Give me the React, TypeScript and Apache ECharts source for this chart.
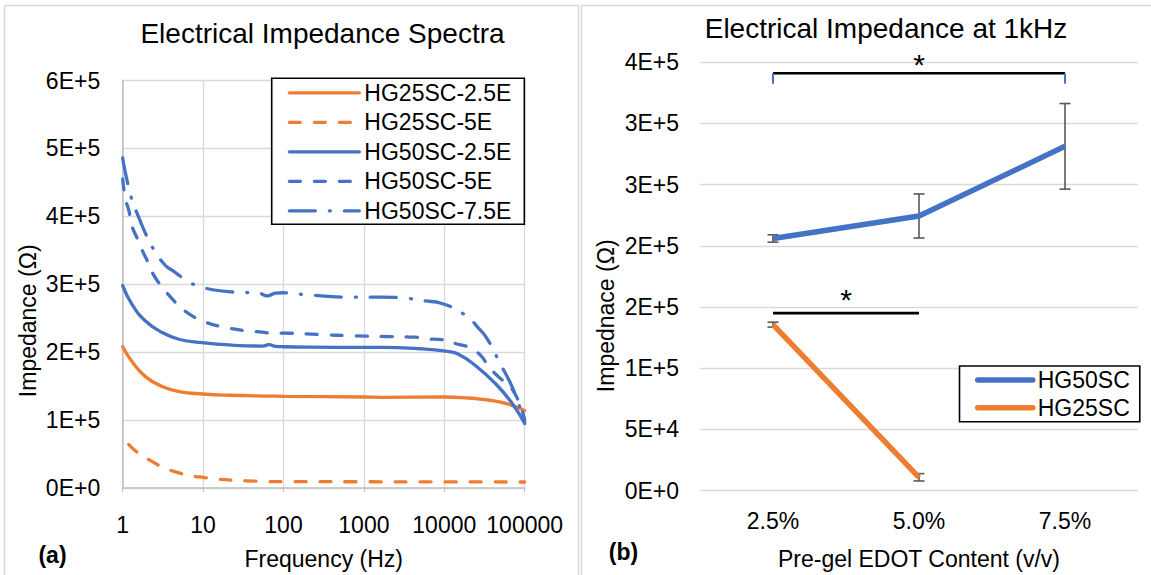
import React, { useEffect, useRef } from "react";
import * as echarts from "echarts";

const ORANGE = "#ed7d31";
const BLUE = "#4472c4";
const FONT = "'Liberation Sans', Arial, sans-serif";

// ---------- Panel (a): impedance spectra ----------
const hg25_25E_freq = [1, 1.31, 1.92, 3.1, 5, 10, 21, 100, 1000, 1650, 10000, 20000, 30000, 50000, 70000, 100000];
const hg25_25E_imp = [208000, 186000, 164000, 149500, 142000, 138400, 136600, 135000, 134000, 133500, 134000, 132500, 130500, 126500, 121500, 114000];

const hg25_5E_freq = [1.19, 1.58, 2.28, 3.25, 4.76, 7, 10.3, 15.5, 23, 34, 52, 77, 100, 1000, 10000, 100000];
const hg25_5E_imp = [64000, 51000, 39500, 29800, 23000, 18000, 15400, 12900, 11500, 10600, 9800, 9400, 9300, 9200, 9000, 8800];

const hg50_25E_freq = [1, 1.31, 1.92, 3.1, 5, 9.8, 21, 55, 66, 80, 100, 1000, 1650, 5000, 11000, 15000, 24000, 43000, 69000, 100000];
const hg50_25E_imp = [298000, 270000, 246000, 229000, 219000, 214000, 210600, 209000, 211000, 208500, 208000, 207000, 207000, 205000, 201000, 197000, 181000, 154000, 125500, 95000];

const hg50_5E_freq = [1, 1.08, 1.19, 1.31, 1.51, 1.78, 2.07, 2.44, 3.1, 4.05, 5.25, 7.4, 10.3, 15.5, 22, 34, 50, 77, 100, 270, 780, 2000, 4300, 6400, 9200, 14400, 20300, 28500, 36000, 47000, 73000, 100000];
const hg50_5E_imp = [455000, 426000, 409000, 385000, 368000, 348000, 332000, 313000, 296000, 279500, 266000, 253000, 245000, 238500, 234800, 231500, 230000, 228000, 228000, 226000, 224000, 223000, 222000, 219500, 218500, 212000, 207000, 195000, 178000, 164000, 142000, 100000];

const hg50_75E_freq = [1, 1.04, 1.13, 1.25, 1.66, 1.97, 2.44, 3.4, 4.2, 6.1, 9.1, 21, 33, 50, 63, 80, 98, 177, 660, 1650, 3600, 5700, 9100, 19100, 26300, 34500, 49600, 62000, 74500, 100000];
const hg50_75E_imp = [486000, 474000, 453500, 431000, 392500, 372000, 351000, 327600, 320000, 306500, 296600, 289000, 288000, 286600, 283000, 287000, 287500, 285000, 281000, 281000, 279000, 275600, 272000, 253000, 236000, 219000, 183000, 161600, 141000, 97000];

// ---------- Panel (b): impedance at 1 kHz ----------
const edotCategories = ["2.5%", "5.0%", "7.5%"];
const hg50Mean = [206000, 224400, 281300];
const hg50Err = [3000, 18000, 35000];
const hg25Mean = [135600, 10800];
const hg25Err = [2000, 3000];
// [fromIndex, toIndex, barValue, endTickValue, starValue]
const sigTop = [0, 2, 341000, 332500, 351600];
const sigLow = [0, 1, 145000, 145000, 159000];

const sciLabel = (v: number) => {
  if (v === 0) return "0E+0";
  let e = Math.floor(Math.log10(v) + 1e-9);
  let m = Math.round(v / Math.pow(10, e));
  if (m >= 10) {
    m = 1;
    e += 1;
  }
  return m + "E+" + e;
};

const pairs = (f: number[], v: number[]) => f.map((x, i) => [x, v[i]]);

export default function App() {
  const ref = useRef<HTMLDivElement>(null);
  useEffect(() => {
    if (!ref.current) return;
    const chart = echarts.init(ref.current, undefined, { renderer: "svg" });

    const axisLabelStyle = { color: "#000", fontSize: 23, fontFamily: FONT };
    const gridLine = { lineStyle: { color: "#d9d9d9", width: 1.3 } };

    const errRender = (params: any, api: any) => {
      const i = api.value(0);
      const m = api.value(1);
      const e = api.value(2);
      const hi = api.coord([i, m + e]);
      const lo = api.coord([i, m - e]);
      const w = 5.5;
      const st = { stroke: "#595959", lineWidth: 1.6 };
      return {
        type: "group",
        children: [
          { type: "line", shape: { x1: hi[0], y1: hi[1], x2: lo[0], y2: lo[1] }, style: st },
          { type: "line", shape: { x1: hi[0] - w, y1: hi[1], x2: hi[0] + w, y2: hi[1] }, style: st },
          { type: "line", shape: { x1: lo[0] - w, y1: lo[1], x2: lo[0] + w, y2: lo[1] }, style: st },
        ],
      };
    };

    const sigRender = (params: any, api: any) => {
      const a = api.coord([api.value(0), api.value(2)]);
      const b = api.coord([api.value(1), api.value(2)]);
      const t = api.coord([api.value(0), api.value(3)]);
      const s = api.coord([api.value(0), api.value(4)]);
      const children: any[] = [
        { type: "line", shape: { x1: a[0], y1: a[1], x2: b[0], y2: b[1] }, style: { stroke: "#000", lineWidth: 2.6 } },
        {
          type: "text",
          x: (a[0] + b[0]) / 2,
          y: s[1] + 4,
          style: { text: "*", fontSize: 30, fontFamily: FONT, fill: "#000", align: "center", verticalAlign: "middle" },
        },
      ];
      if (Math.abs(t[1] - a[1]) > 0.5) {
        children.push(
          { type: "line", shape: { x1: a[0], y1: a[1], x2: a[0], y2: t[1] }, style: { stroke: BLUE, lineWidth: 2 } },
          { type: "line", shape: { x1: b[0], y1: a[1], x2: b[0], y2: t[1] }, style: { stroke: BLUE, lineWidth: 2 } }
        );
      }
      return { type: "group", children };
    };

    const leftLine = (name: string, f: number[], v: number[], color: string, type: any) => ({
      name,
      type: "line",
      xAxisIndex: 0,
      yAxisIndex: 0,
      data: pairs(f, v),
      symbol: "none",
      smooth: 0.5,
      itemStyle: { color },
      lineStyle: { color, width: 3.3, type, cap: "round" },
      z: 3,
    });

    const hiddenSymbol = { opacity: 0, color: "rgba(0,0,0,0)", borderWidth: 0 };

    chart.setOption({
      animation: false,
      textStyle: { fontFamily: FONT },
      title: [
        {
          text: "Electrical Impedance Spectra",
          left: 322.5,
          top: 19,
          padding: 0,
          textAlign: "center",
          textStyle: { fontSize: 28, fontWeight: "normal", color: "#000", fontFamily: FONT },
        },
        {
          text: "Electrical Impedance at 1kHz",
          left: 886,
          top: 14,
          padding: 0,
          textAlign: "center",
          textStyle: { fontSize: 28, fontWeight: "normal", color: "#000", fontFamily: FONT },
        },
      ],
      legend: [
        {
          data: ["HG25SC-2.5E", "HG25SC-5E", "HG50SC-2.5E", "HG50SC-5E", "HG50SC-7.5E"],
          orient: "vertical",
          left: 271.7,
          top: 78.3,
          padding: [3, 13, 2, 16],
          itemWidth: 70,
          itemHeight: 14,
          itemGap: 6.5,
          borderColor: "#000",
          borderWidth: 1.6,
          backgroundColor: "#fff",
          itemStyle: hiddenSymbol,
          lineStyle: { width: 3.3, cap: "round" },
          textStyle: { fontSize: 23, lineHeight: 23, color: "#000", fontFamily: FONT },
        },
        {
          data: ["HG50SC", "HG25SC"],
          orient: "vertical",
          left: 959.5,
          top: 366,
          padding: [2.5, 10, 2.5, 15.5],
          itemWidth: 55,
          itemHeight: 14,
          itemGap: 4.7,
          borderColor: "#000",
          borderWidth: 1.6,
          backgroundColor: "#fff",
          itemStyle: hiddenSymbol,
          lineStyle: { width: 5.5, cap: "round" },
          textStyle: { fontSize: 23, lineHeight: 23, color: "#000", fontFamily: FONT },
        },
      ],
      grid: [
        { left: 122.7, top: 80.5, width: 402, height: 415.7 },
        { left: 700, top: 62.3, width: 438, height: 430.7 },
      ],
      xAxis: [
        {
          type: "log",
          logBase: 10,
          gridIndex: 0,
          min: 1,
          max: 100000,
          name: "Frequency (Hz)",
          nameLocation: "middle",
          nameGap: 59,
          nameTextStyle: { fontSize: 23, color: "#000", fontFamily: FONT },
          axisLine: { show: true, lineStyle: { color: "#bfbfbf", width: 1.5 } },
          axisTick: { show: true, length: 4, lineStyle: { color: "#bfbfbf" } },
          axisLabel: { ...axisLabelStyle, margin: 25, formatter: (v: number) => String(Math.round(v)) },
          splitLine: { show: true, ...gridLine },
        },
        {
          type: "category",
          gridIndex: 1,
          data: edotCategories,
          boundaryGap: true,
          name: "Pre-gel EDOT Content (v/v)",
          nameLocation: "middle",
          nameGap: 56.5,
          nameTextStyle: { fontSize: 23, color: "#000", fontFamily: FONT },
          axisLine: { show: false },
          axisTick: { show: false },
          axisLabel: { ...axisLabelStyle, margin: 19 },
          splitLine: { show: false },
        },
      ],
      yAxis: [
        {
          type: "value",
          gridIndex: 0,
          min: 0,
          max: 600000,
          interval: 100000,
          axisLine: { show: true, lineStyle: { color: "#bfbfbf", width: 1.5 } },
          axisTick: { show: false },
          axisLabel: { ...axisLabelStyle, margin: 22.5, formatter: sciLabel },
          splitLine: { show: true, ...gridLine },
        },
        {
          type: "value",
          gridIndex: 1,
          min: 0,
          max: 350000,
          interval: 50000,
          axisLine: { show: false },
          axisTick: { show: false },
          axisLabel: { ...axisLabelStyle, margin: 21, formatter: sciLabel },
          splitLine: { show: true, ...gridLine },
        },
      ],
      series: [
        leftLine("HG25SC-2.5E", hg25_25E_freq, hg25_25E_imp, ORANGE, "solid"),
        leftLine("HG25SC-5E", hg25_5E_freq, hg25_5E_imp, ORANGE, [11, 14]),
        leftLine("HG50SC-2.5E", hg50_25E_freq, hg50_25E_imp, BLUE, "solid"),
        leftLine("HG50SC-5E", hg50_5E_freq, hg50_5E_imp, BLUE, [11, 14]),
        leftLine("HG50SC-7.5E", hg50_75E_freq, hg50_75E_imp, BLUE, [26, 14, 1, 14]),
        {
          type: "custom",
          xAxisIndex: 1,
          yAxisIndex: 1,
          data: hg50Mean.map((m, i) => [i, m, hg50Err[i]]),
          renderItem: errRender,
          z: 2,
          silent: true,
        },
        {
          type: "custom",
          xAxisIndex: 1,
          yAxisIndex: 1,
          data: hg25Mean.map((m, i) => [i, m, hg25Err[i]]),
          renderItem: errRender,
          z: 2,
          silent: true,
        },
        {
          name: "HG50SC",
          type: "line",
          xAxisIndex: 1,
          yAxisIndex: 1,
          data: hg50Mean,
          symbol: "none",
          itemStyle: { color: BLUE },
          lineStyle: { color: BLUE, width: 5.5 },
          z: 4,
        },
        {
          name: "HG25SC",
          type: "line",
          xAxisIndex: 1,
          yAxisIndex: 1,
          data: hg25Mean,
          symbol: "none",
          itemStyle: { color: ORANGE },
          lineStyle: { color: ORANGE, width: 5.5 },
          z: 4,
        },
        {
          type: "custom",
          xAxisIndex: 1,
          yAxisIndex: 1,
          data: [sigTop, sigLow],
          renderItem: sigRender,
          z: 5,
          silent: true,
          clip: false,
        },
      ],
      graphic: [
        {
          type: "rect",
          silent: true,
          z: -10,
          shape: { x: 4.5, y: 5.5, width: 574, height: 640 },
          style: { fill: "none", stroke: "#d9d9d9", lineWidth: 1.5 },
        },
        {
          type: "rect",
          silent: true,
          z: -10,
          shape: { x: 581.5, y: 5.5, width: 640, height: 640 },
          style: { fill: "none", stroke: "#d9d9d9", lineWidth: 1.5 },
        },
        {
          type: "text",
          x: 27.7,
          y: 320.8,
          rotation: Math.PI / 2,
          style: { text: "Impedance (Ω)", fontSize: 23, fontFamily: FONT, fill: "#000", align: "center", verticalAlign: "middle" },
        },
        {
          type: "text",
          x: 605.5,
          y: 315.8,
          rotation: Math.PI / 2,
          style: { text: "Impednace (Ω)", fontSize: 23, fontFamily: FONT, fill: "#000", align: "center", verticalAlign: "middle" },
        },
        {
          type: "text",
          x: 52.5,
          y: 555,
          style: { text: "(a)", fontSize: 23, fontWeight: "bold", fontFamily: FONT, fill: "#000", align: "center", verticalAlign: "middle" },
        },
        {
          type: "text",
          x: 623.5,
          y: 551.7,
          style: { text: "(b)", fontSize: 23, fontWeight: "bold", fontFamily: FONT, fill: "#000", align: "center", verticalAlign: "middle" },
        },
      ],
    });

    return () => chart.dispose();
  }, []);

  return (
    <div
      ref={ref}
      style={{ position: "absolute", left: 0, top: 0, width: 1151, height: 575, background: "#fff" }}
    />
  );
}
